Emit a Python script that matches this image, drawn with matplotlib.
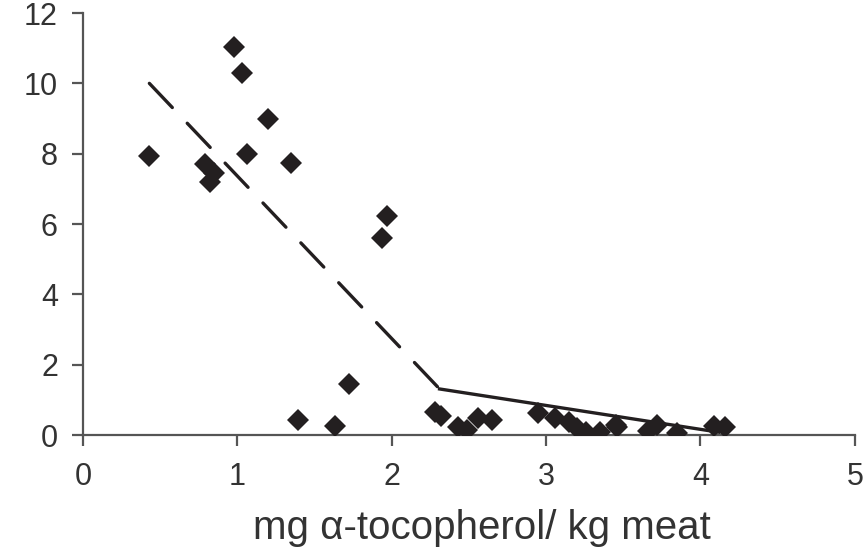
import numpy as np
import matplotlib
matplotlib.use("Agg")
import matplotlib.pyplot as plt

plt.rcParams['font.family'] = ['Liberation Sans', 'DejaVu Sans']

# mg alpha-tocopherol / kg meat vs. response
x_pts = [0.43, 0.98, 1.03, 1.20, 0.79, 0.85, 0.82, 1.06, 1.35,
         1.97, 1.94, 1.72, 1.39, 1.63,
         2.28, 2.32, 2.43, 2.49, 2.56, 2.65,
         2.95, 3.06, 3.15, 3.20, 3.26, 3.35, 3.45, 3.46,
         3.66, 3.72, 3.85, 4.09, 4.16]
y_pts = [7.93, 11.03, 10.29, 8.98, 7.71, 7.45, 7.19, 7.99, 7.73,
         6.23, 5.60, 1.45, 0.43, 0.26,
         0.65, 0.55, 0.23, 0.14, 0.48, 0.42,
         0.62, 0.48, 0.37, 0.20, 0.10, 0.10, 0.28, 0.22,
         0.12, 0.28, 0.05, 0.25, 0.23]

# broken-line fit
dash_x = [0.43, 2.31]
dash_y = [10.0, 1.31]
solid_x = [2.31, 4.12]
solid_y = [1.31, 0.08]

fig = plt.figure(figsize=(8.67, 5.47), dpi=100)
ax = fig.add_axes([0.0957, 0.2047, 0.8903, 0.7715])

ink = '#231f20'
ax.plot(dash_x, dash_y, color=ink, lw=2.4, dashes=(10, 6.5), dash_capstyle='round')
ax.plot(solid_x, solid_y, color=ink, lw=2.4)
ax.plot(x_pts, y_pts, 'D', color=ink, ms=11, mew=0, zorder=3)

ax.set_xlim(0, 5)
ax.set_ylim(0, 12)
ax.set_xticks(range(0, 6))
ax.set_yticks(range(0, 13, 2))
for s in ['top', 'right']:
    ax.spines[s].set_visible(False)
for s in ['left', 'bottom']:
    ax.spines[s].set_color('#555555')
    ax.spines[s].set_linewidth(1.6)
ax.tick_params(direction='out', length=8, width=1.6, color='#555555',
               labelsize=22, labelcolor='#333333')
ax.tick_params(axis='x', pad=11.5)
ax.tick_params(axis='y', pad=10)
ax.set_xlabel('mg α-tocopherol/ kg meat', fontsize=29, color='#333333', labelpad=12.5)
ax.xaxis.label.set_x(0.517)

fig.savefig('out.png', dpi=100)
